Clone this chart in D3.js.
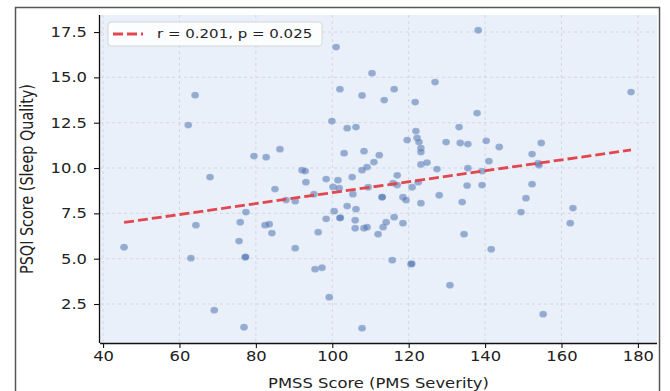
<!DOCTYPE html>
<html>
<head>
<meta charset="utf-8">
<script src="https://cdn.jsdelivr.net/npm/d3@7"></script>
<style>
  body { margin: 0; background: #fff; }
  svg { display: block; font-family: "DejaVu Sans", sans-serif; }
</style>
</head>
<body>
<div id="chart"></div>
<script>
// PMSS score (x) and PSQI score (y)
const pmss = [
  45.5, 62.3, 64.1, 68.0, 79.5, 82.7, 86.3, 85.0, 92.1, 92.9, 93.1, 98.4, 100.2,
  64.3, 63.0, 69.1, 75.9, 77.4, 75.6, 77.2, 77.3, 76.9, 82.4, 83.5, 84.2, 87.9,
  90.3, 90.3, 96.3, 98.4, 95.5, 97.3, 99.2, 100.5,
  101.0, 110.4, 102.0, 107.8, 113.6, 116.2, 121.7, 126.9, 99.9, 103.9, 106.2,
  121.9, 119.6, 122.2, 122.7, 123.2, 123.2, 129.8, 133.2, 133.5, 135.5, 138.2,
  137.9, 103.1, 108.3, 112.3, 110.9, 109.1, 107.8, 123.2, 124.8, 127.4, 135.5,
  117.0, 105.2, 101.5, 101.8, 95.2, 105.4, 109.4, 113.0, 113.1, 115.9, 117.0,
  118.5, 119.3, 120.9, 122.5, 123.2, 128.0, 135.3, 134.0, 134.5, 130.8, 107.8,
  102.0, 102.1, 103.9, 106.2, 106.0, 106.0, 108.3, 109.1, 112.0, 113.3, 114.1,
  116.2, 118.5, 115.7, 120.6, 120.8,
  178.2, 140.3, 143.7, 154.7, 152.3, 141.0, 153.9, 154.1, 139.2, 139.2, 152.3,
  150.7, 149.4, 163.0, 162.3, 141.6, 155.2
];
const psqi = [
  5.63, 12.37, 14.02, 9.50, 10.66, 10.60, 11.04, 8.84, 9.88, 9.83, 9.22, 9.39, 8.96,
  6.85, 5.03, 2.16, 7.01, 7.57, 5.97, 5.08, 5.10, 1.22, 6.85, 6.90, 6.41, 8.23,
  8.17, 5.58, 6.46, 7.20, 4.42, 4.50, 2.88, 7.62,
  16.67, 15.23, 14.35, 14.00, 13.75, 14.35, 13.64, 14.74, 12.59, 12.20, 12.26,
  12.04, 11.54, 11.66, 11.43, 11.10, 10.88, 11.43, 12.26, 11.38, 11.32, 17.60,
  13.03, 10.82, 10.93, 10.71, 10.33, 10.05, 9.88, 10.20, 10.30, 9.94, 9.99,
  9.60, 9.50, 9.33, 8.89, 8.56, 8.56, 8.94, 8.39, 8.40, 9.17, 9.06,
  8.39, 8.23, 8.94, 9.22, 8.06, 8.50, 9.03, 8.12, 6.35, 3.54, 1.17,
  7.24, 7.26, 7.90, 7.73, 7.12, 6.68, 6.68, 6.74, 6.35, 6.74, 7.01,
  7.29, 6.96, 4.92, 4.70, 4.72,
  14.19, 11.50, 11.16, 11.38, 10.77, 10.38, 10.27, 10.16, 9.83, 9.06, 9.11,
  8.34, 7.57, 7.79, 6.96, 5.52, 1.94
];

const xTicks = [40, 60, 80, 100, 120, 140, 160, 180];
const yTicks = [2.5, 5.0, 7.5, 10.0, 12.5, 15.0, 17.5];

// fitted line as drawn in the picture
const fitSlope = 0.03014;
const fitIntercept = 5.628;
const legendLabel = 'r = 0.201, p = 0.025';

const xLabel = 'PMSS Score (PMS Severity)';
const yLabel = 'PSQI Score (Sleep Quality)';

const W = 670, H = 391;
const margin = { top: 15, right: 13, bottom: 48, left: 100 };
const pw = W - margin.left - margin.right;
const ph = H - margin.top - margin.bottom;
const sx = 1.17; // the picture is a little wider than tall, text looks stretched

const points = pmss.map((d, i) => ({ x: d, y: psqi[i] }));

const svg = d3.select('#chart').append('svg')
  .attr('width', W)
  .attr('height', H);

svg.append('rect')
  .attr('width', W).attr('height', H)
  .attr('fill', '#fff');

// outer frame
svg.append('rect')
  .attr('x', 15.5).attr('y', 7.5)
  .attr('width', 644).attr('height', 400)
  .attr('fill', 'none')
  .attr('stroke', '#555')
  .attr('stroke-width', 1.5);

const g = svg.append('g')
  .attr('transform', `translate(${margin.left},${margin.top})`);

const x = d3.scaleLinear().domain([39.2, 185]).range([0, pw]);
const y = d3.scaleLinear().domain([0.35, 18.44]).range([ph, 0]);

g.append('rect')
  .attr('width', pw).attr('height', ph)
  .attr('fill', '#eaf0f9');

// grid
g.append('g')
  .selectAll('line.vx')
  .data(xTicks)
  .enter().append('line')
  .attr('x1', d => x(d)).attr('x2', d => x(d))
  .attr('y1', 0).attr('y2', ph)
  .attr('stroke', '#cdd2da')
  .attr('stroke-width', 0.8)
  .attr('stroke-dasharray', '3,3');

g.append('g')
  .selectAll('line.hy')
  .data(yTicks)
  .enter().append('line')
  .attr('x1', 0).attr('x2', pw)
  .attr('y1', d => y(d)).attr('y2', d => y(d))
  .attr('stroke', '#cdd2da')
  .attr('stroke-width', 0.8)
  .attr('stroke-dasharray', '3,3');

// points
g.append('g')
  .selectAll('ellipse')
  .data(points)
  .enter().append('ellipse')
  .attr('cx', d => x(d.x))
  .attr('cy', d => y(d.y))
  .attr('rx', 3.9)
  .attr('ry', 3.4)
  .attr('fill', '#4c72b0')
  .attr('fill-opacity', 0.55)
  .attr('stroke', '#ffffff')
  .attr('stroke-opacity', 0.3)
  .attr('stroke-width', 0.5);

// regression line
const xExt = d3.extent(pmss);
const fitLine = d3.line().x(d => x(d)).y(d => y(fitIntercept + fitSlope * d));
g.append('path')
  .attr('d', fitLine(xExt))
  .attr('fill', 'none')
  .attr('stroke', '#e2474f')
  .attr('stroke-width', 2.8)
  .attr('stroke-dasharray', '10,4');

// axes
const xAxis = g.append('g')
  .attr('transform', `translate(0,${ph})`)
  .call(d3.axisBottom(x).tickValues(xTicks).tickFormat(d3.format('d')).tickSize(5).tickPadding(3));

const yAxis = g.append('g')
  .call(d3.axisLeft(y).tickValues(yTicks).tickFormat(d3.format('.1f')).tickSize(6).tickPadding(6));

[xAxis, yAxis].forEach(a => {
  a.select('.domain').attr('stroke', '#111').attr('stroke-width', 1.3);
  a.selectAll('.tick line').attr('stroke', '#111').attr('stroke-width', 1.1);
  a.selectAll('.tick text')
    .attr('fill', '#222')
    .style('font-size', '14px')
    .style('font-family', '"DejaVu Sans", sans-serif');
});
xAxis.select('.domain').attr('d', `M0,0.5H${pw}`);
yAxis.select('.domain').attr('d', `M-0.5,${ph}V0`);

xAxis.selectAll('.tick text').attr('transform', `scale(${sx},1)`);
yAxis.selectAll('.tick text')
  .attr('x', -13 / sx)
  .attr('transform', `scale(${sx},1)`);

// axis titles
svg.append('text')
  .attr('transform', `translate(${margin.left + pw / 2},388) scale(${sx},1)`)
  .attr('text-anchor', 'middle')
  .attr('fill', '#222')
  .style('font-size', '14px')
  .text(xLabel);

svg.append('text')
  .attr('transform', `translate(33,${margin.top + ph / 2}) scale(${sx},1) rotate(-90)`)
  .attr('text-anchor', 'middle')
  .attr('fill', '#222')
  .style('font-size', '14.4px')
  .text(yLabel);

// legend
const lg = svg.append('g').attr('transform', 'translate(108,22)');
lg.append('rect')
  .attr('width', 214).attr('height', 24)
  .attr('rx', 3)
  .attr('fill', '#fff')
  .attr('fill-opacity', 0.85)
  .attr('stroke', '#d4d4d4');
lg.append('line')
  .attr('x1', 5).attr('x2', 35)
  .attr('y1', 12).attr('y2', 12)
  .attr('stroke', '#e2474f')
  .attr('stroke-width', 2.8)
  .attr('stroke-dasharray', '10,4');
lg.append('text')
  .attr('transform', `translate(49,16) scale(1.2,1)`)
  .attr('fill', '#222')
  .style('font-size', '12.5px')
  .text(legendLabel);
</script>
</body>
</html>
